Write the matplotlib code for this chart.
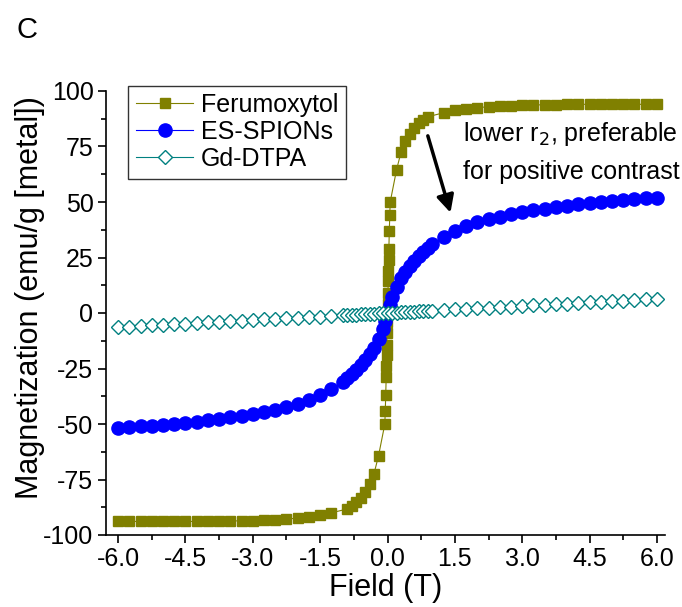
import matplotlib
matplotlib.use('Agg')
import matplotlib.pyplot as plt
from matplotlib.ticker import MultipleLocator, FormatStrFormatter
import numpy as np

plt.rcParams['font.family'] = ['Liberation Sans', 'DejaVu Sans']
plt.rcParams['axes.unicode_minus'] = False

# Ferumoxytol: field (T) and magnetization (emu/g metal)
fer_field = [-6.0, -5.75, -5.5, -5.25, -5.0, -4.75, -4.5, -4.25, -4.0, -3.75, -3.5, -3.25,
             -3.0, -2.75, -2.5, -2.25, -2.0, -1.75, -1.5, -1.25,
             -0.9, -0.8, -0.7, -0.6, -0.5, -0.4, -0.3, -0.2,
             -0.06, -0.05, -0.04, -0.03, -0.025, -0.02, -0.015, -0.01, -0.005, 0.0,
             0.005, 0.01, 0.015, 0.02, 0.025, 0.03, 0.04, 0.05, 0.06,
             0.2, 0.3, 0.4, 0.5, 0.6, 0.7, 0.8, 0.9,
             1.25, 1.5, 1.75, 2.0, 2.25, 2.5, 2.75, 3.0, 3.25, 3.5, 3.75, 4.0,
             4.25, 4.5, 4.75, 5.0, 5.25, 5.5, 5.75, 6.0]
fer_mag = [-93.9, -93.9, -93.9, -93.9, -93.9, -93.9, -93.9, -93.9, -93.8, -93.8, -93.7, -93.6,
           -93.5, -93.3, -93.1, -92.8, -92.4, -91.9, -91.2, -90.0,
           -88.3, -86.8, -85.2, -83.3, -80.6, -77.1, -72.3, -64.3,
           -50.0, -44.0, -37.0, -29.0, -24.0, -19.0, -14.5, -9.0, -4.0, 0.0,
           4.0, 9.0, 14.5, 19.0, 24.0, 29.0, 37.0, 44.0, 50.0,
           64.4, 72.4, 77.3, 80.6, 83.3, 85.4, 87.0, 88.4,
           90.2, 91.3, 92.0, 92.5, 92.9, 93.2, 93.4, 93.6, 93.7, 93.8, 93.9, 94.0,
           94.0, 94.0, 94.0, 94.0, 94.0, 94.0, 94.0, 94.0]

# ES-SPIONs
es_field = [-6.0, -5.75, -5.5, -5.25, -5.0, -4.75, -4.5, -4.25, -4.0, -3.75, -3.5, -3.25,
            -3.0, -2.75, -2.5, -2.25, -2.0, -1.75, -1.5, -1.25, -1.0,
            -0.9, -0.8, -0.7, -0.6, -0.5, -0.4, -0.3, -0.2, -0.1, -0.05, 0.0,
            0.05, 0.1, 0.2, 0.3, 0.4, 0.5, 0.6, 0.7, 0.8, 0.9,
            1.0, 1.25, 1.5, 1.75, 2.0, 2.25, 2.5, 2.75, 3.0, 3.25, 3.5, 3.75, 4.0,
            4.25, 4.5, 4.75, 5.0, 5.25, 5.5, 5.75, 6.0]
es_mag = [-51.9, -51.5, -51.1, -50.7, -50.3, -49.8, -49.4, -49.0, -48.4, -47.7, -47.0, -46.2,
          -45.4, -44.6, -43.5, -42.2, -40.9, -39.0, -36.9, -34.3, -31.0,
          -29.2, -27.4, -25.5, -23.4, -21.0, -18.5, -15.6, -11.8, -7.0, -3.5, 0.0,
          3.5, 7.0, 11.8, 15.6, 18.5, 21.0, 23.4, 25.5, 27.4, 29.2,
          31.0, 34.3, 37.0, 39.0, 40.8, 42.2, 43.4, 44.5, 45.4, 46.2, 47.0, 47.7, 48.4,
          49.0, 49.5, 50.0, 50.4, 50.8, 51.2, 51.6, 52.0]

# Gd-DTPA
gd_field = [-6.0, -5.75, -5.5, -5.25, -5.0, -4.75, -4.5, -4.25, -4.0, -3.75, -3.5, -3.25,
            -3.0, -2.75, -2.5, -2.25, -2.0, -1.75, -1.5, -1.25, -1.0,
            -0.9, -0.8, -0.7, -0.6, -0.5, -0.4, -0.3, -0.2, -0.1, 0.0,
            0.1, 0.2, 0.3, 0.4, 0.5, 0.6, 0.7, 0.8, 0.9, 1.0,
            1.25, 1.5, 1.75, 2.0, 2.25, 2.5, 2.75, 3.0, 3.25, 3.5, 3.75, 4.0,
            4.25, 4.5, 4.75, 5.0, 5.25, 5.5, 5.75, 6.0]
gd_mag = [-6.4, -6.1, -5.8, -5.6, -5.3, -5.0, -4.8, -4.5, -4.2, -4.0, -3.7, -3.4,
          -3.2, -2.9, -2.6, -2.4, -2.1, -1.9, -1.6, -1.3, -1.1,
          -0.95, -0.85, -0.74, -0.64, -0.53, -0.42, -0.32, -0.21, -0.11, 0.0,
          0.11, 0.21, 0.32, 0.42, 0.53, 0.64, 0.74, 0.85, 0.95, 1.06,
          1.3, 1.6, 1.9, 2.1, 2.4, 2.7, 2.9, 3.2, 3.5, 3.7, 4.0, 4.2,
          4.5, 4.8, 5.0, 5.3, 5.6, 5.8, 6.1, 6.4]

fig = plt.figure(figsize=(6.82, 6.07), dpi=100)
ax = fig.add_axes([106/682, 1 - 535/607, (665-106)/682, (535-91)/607])

ax.plot(fer_field, fer_mag, color='#808000', lw=0.8, marker='s', ms=7.5,
        mec='#808000', mfc='#808000', label='Ferumoxytol')
ax.plot(es_field, es_mag, color='#0000ff', lw=0.8, marker='o', ms=9.5,
        mec='#0000ff', mfc='#0000ff', label='ES-SPIONs')
ax.plot(gd_field, gd_mag, color='#008080', lw=0.8, marker='D', ms=7.5,
        mec='#008080', mfc='white', mew=1.0, label='Gd-DTPA')

ax.set_xlim(-6.27, 6.18)
ax.set_ylim(-100, 100)
ax.xaxis.set_major_locator(MultipleLocator(1.5))
ax.xaxis.set_minor_locator(MultipleLocator(0.75))
ax.xaxis.set_major_formatter(FormatStrFormatter('%.1f'))
ax.yaxis.set_major_locator(MultipleLocator(25))
ax.yaxis.set_minor_locator(MultipleLocator(12.5))

for s in ['top', 'right']:
    ax.spines[s].set_visible(False)
for s in ['left', 'bottom']:
    ax.spines[s].set_linewidth(1.2)
ax.tick_params(which='major', direction='out', length=6, width=1.2, labelsize=18, pad=3)
ax.tick_params(which='minor', direction='out', length=3.5, width=1.2)

ax.set_xlabel('Field (T)', fontsize=22, labelpad=1)
ax.set_ylabel('Magnetization (emu/g [metal])', fontsize=22)
ax.yaxis.set_label_coords(-0.11, 0.535)

leg = ax.legend(loc='upper left', bbox_to_anchor=(0.04, 1.012), fontsize=18,
                frameon=True, fancybox=False, edgecolor='black', handlelength=2.3,
                borderpad=0.3, labelspacing=0.12, handletextpad=0.3, borderaxespad=0)
leg.get_frame().set_linewidth(1.0)

ax.annotate('', xy=(1.42, 44), xytext=(0.88, 81),
            arrowprops=dict(arrowstyle='-|>', color='black', lw=2.5, mutation_scale=26))
ax.text(1.69, 80.5, 'lower r$_2$, preferable', fontsize=18, va='center')
ax.text(1.69, 63.5, 'for positive contrast', fontsize=18, va='center')

fig.text(17/682, 1 - 30/607, 'C', fontsize=21, va='center')

fig.savefig('out.png', dpi=100)
